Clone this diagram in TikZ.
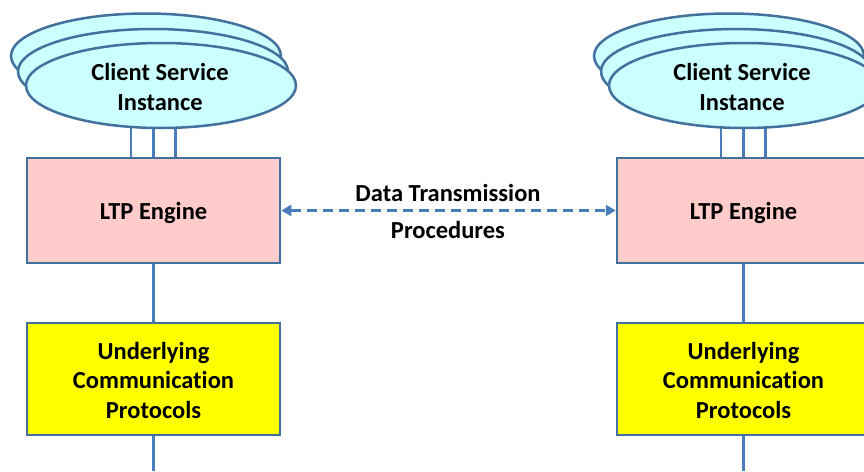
\documentclass[tikz,border=0pt]{standalone}
\usepackage{fontspec}
\setmainfont{Carlito}[Ligatures=NoCommon]
\usetikzlibrary{shapes.geometric,arrows.meta}
\definecolor{bord}{HTML}{41719C}
\definecolor{conn}{HTML}{4A7EBB}
\definecolor{csfill}{HTML}{CCFFFF}
\definecolor{ltpfill}{HTML}{FFCCCC}
\definecolor{ucpfill}{HTML}{FFFF00}
\tikzset{
  csell/.style={ellipse, draw=bord, line width=2.5pt, fill=csfill, minimum width=270pt, minimum height=85pt, inner sep=0pt},
  ltpbox/.style={rectangle, draw=bord, line width=2.5pt, fill=ltpfill, minimum width=253pt, minimum height=105pt, inner sep=0pt},
  ucpbox/.style={rectangle, draw=bord, line width=2.5pt, fill=ucpfill, minimum width=253pt, minimum height=112pt, inner sep=0pt},
  txt/.style={font=\fontsize{24.5}{29.5}\selectfont\bfseries, align=center, text=black},
  conline/.style={draw=conn, line width=2.5pt},
  dasharrow/.style={draw=conn, line width=3pt, dash pattern=on 10pt off 6pt, {Triangle[length=10pt,width=11pt]}-{Triangle[length=10pt,width=11pt]}}
}
\begin{document}
\begin{tikzpicture}[x=1pt,y=-1pt]
\useasboundingbox (0,0) rectangle (864,471);
\clip (0,0) rectangle (864,471);
% boxes
\node[ltpbox] (lltp) at (153.5,210.5) {};
\node[txt] (lltpt) at (153.5,212.5) {LTP Engine};
\node[ucpbox] (lucp) at (153.5,379) {};
\node[txt] (lucpt) at (153.5,380) {Underlying\\Communication\\Protocols};
\node[ltpbox] (rltp) at (743.5,210.5) {};
\node[txt] (rltpt) at (743.5,212.5) {LTP Engine};
\node[ucpbox] (rucp) at (743.5,379) {};
\node[txt] (rucpt) at (743.5,380) {Underlying\\Communication\\Protocols};
\coordinate (lend) at (153.5,471);
\coordinate (rend) at (743.5,471);
% connectors between boxes
\draw[conline] (lltp.south) -- (lucp.north);
\draw[conline] (lucp.south) -- (lend);
\draw[conline] (rltp.south) -- (rucp.north);
\draw[conline] (rucp.south) -- (rend);
% three lines to client service
\foreach \dx in {-22.5,0,22} {
  \draw[conline] ([xshift=\dx pt]lltp.north) -- ++(0,-60);
  \draw[conline] ([xshift=\dx pt]rltp.north) -- ++(0,-60);
}
% ellipses
\node[csell] (lcs3) at (146,56) {};
\node[csell] (lcs2) at (153,71.5) {};
\node[csell] (lcs1) at (161,85.5) {};
\node[txt] (lcst) at (160,87) {Client Service\\Instance};
\node[csell] (rcs3) at (729,56) {};
\node[csell] (rcs2) at (736,71.5) {};
\node[csell] (rcs1) at (744,85.5) {};
\node[txt] (rcst) at (742,87) {Client Service\\Instance};
% dashed arrow
\draw[dasharrow] (lltp.east) -- (rltp.west);
\node[txt] (dtp1) at (448,193) {Data Transmission};
\node[txt] (dtp2) at (448,230) {Procedures};
\end{tikzpicture}
\end{document}
